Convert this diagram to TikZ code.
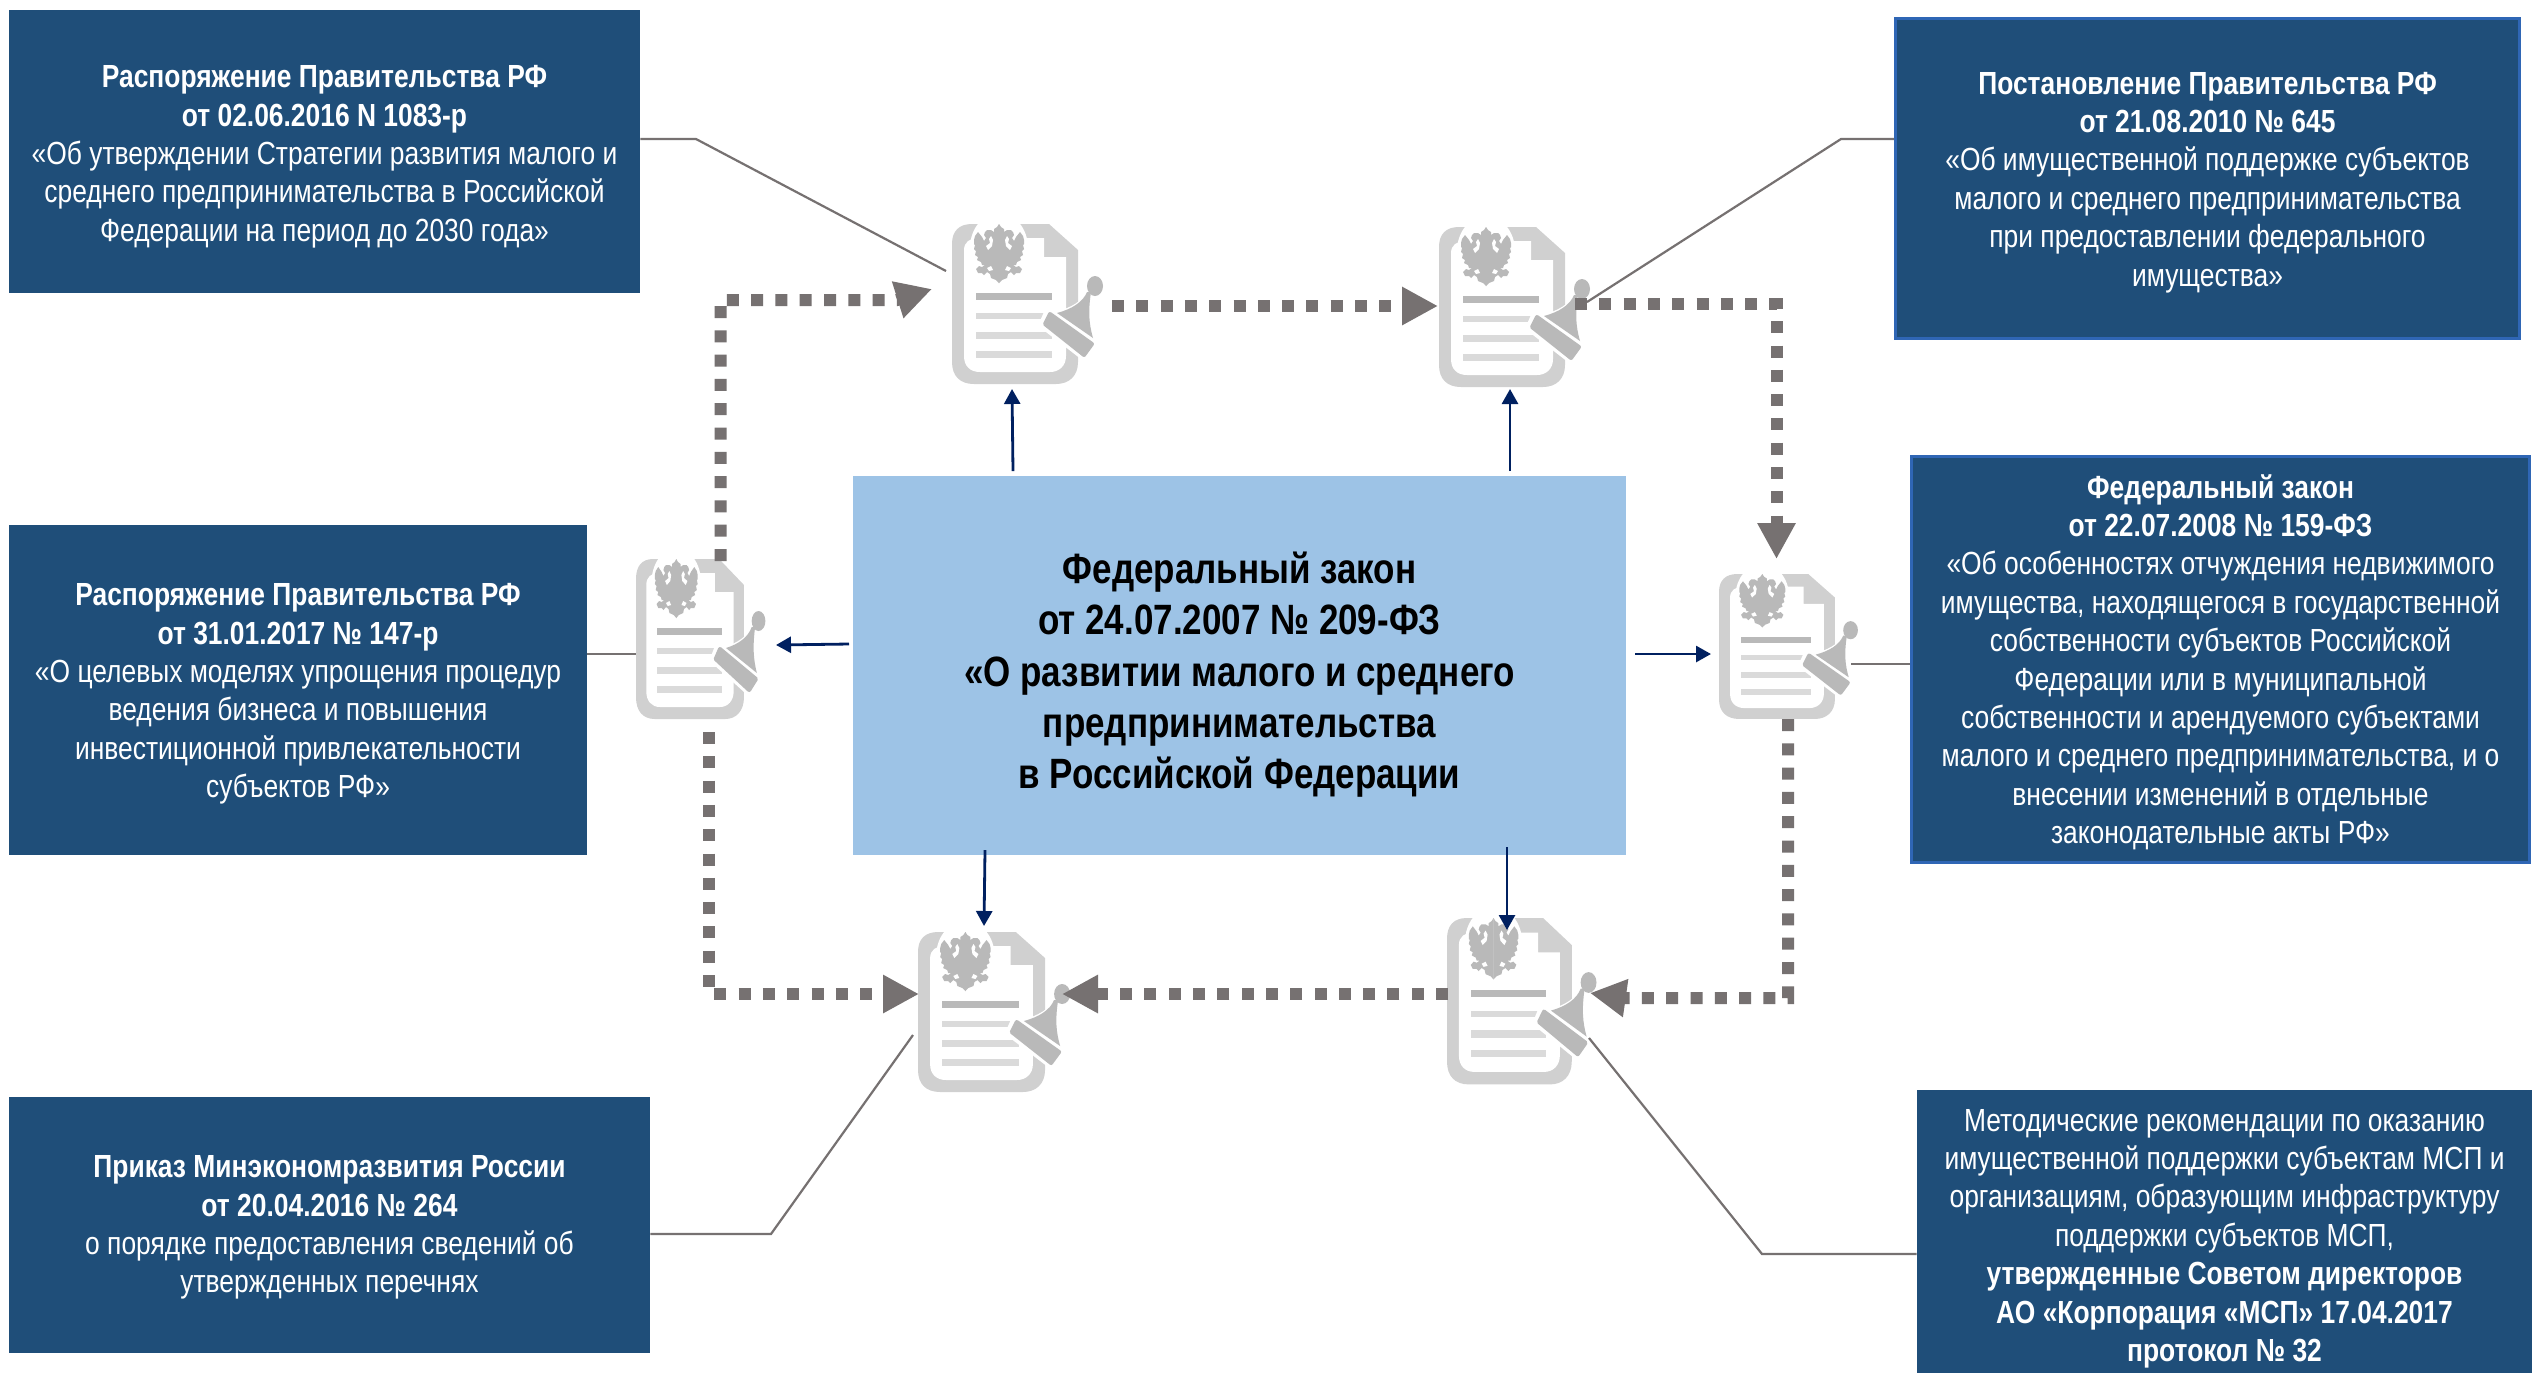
\documentclass[tikz,border=0pt]{standalone}
\usepackage{fontspec}
\setmainfont[FakeStretch=0.825]{Liberation Sans}
\usetikzlibrary{arrows.meta}
\definecolor{boxblue}{HTML}{1F4E79}
\definecolor{edgeblue}{HTML}{2F66B5}
\definecolor{midblue}{HTML}{9DC3E6}
\definecolor{dashgray}{HTML}{767171}
\definecolor{navy}{HTML}{002060}
\definecolor{docgray}{HTML}{D0D0D0}
\definecolor{inkgray}{HTML}{B9B9B9}
\definecolor{linegray}{HTML}{DADADA}
\newcommand{\eaglehalf}{%
  \fill[inkgray] (-.2,0) -- (0,0) -- (2,3) -- (5,5) -- (5,8) -- (8,6) -- (12,6) -- (14,8) -- (15,11) -- (13,14) -- (15,17)
    -- (17,13) -- (21,8) -- (24,12) -- (25,16) -- (25,20) -- (24,21) -- (25,25) -- (23,27) -- (24,31) -- (21,33) -- (22,36)
    -- (18,38) -- (17,41) -- (14,41) -- (17,43) -- (20,42) -- (23,45) -- (21,49) -- (17,49) -- (15,51) -- (12,48) -- (9,50)
    -- (8,54) -- (3,56) -- (0,59) -- (-.2,59) -- cycle;
  \fill[white] (8,12) -- (10,15) -- (9,19) -- (13,22) -- (11,26) -- (7,22) -- (6,16) -- cycle;
  \fill[white] (8,42) -- (12,44) -- (10,47) -- (6,46) -- cycle;
}
\newcommand{\drop}[1]{\rule{0pt}{#1}}
\tikzset{
  x=0.5pt,y=-0.5pt,
  docbox/.style={fill=boxblue,text=white,inner sep=0pt,align=center,font=\fontsize{16}{19.2}\selectfont},
  edged/.style={draw=edgeblue,line width=1.5pt},
  mainbox/.style={fill=midblue,text=black,inner sep=0pt,align=center,font=\fontsize{21.2}{25.6}\selectfont\bfseries},
  leader/.style={draw=dashgray,line width=1.1pt},
  flow/.style={draw=dashgray,line width=6pt,dash pattern=on 6pt off 6.15pt,-{Triangle[length=18pt,width=18pt]}},
  ptr/.style={draw=navy,line width=1.4pt,-{Triangle[length=7.5pt,width=8pt]}},
  docicon/.pic={
    % sheet
    \fill[docgray] (0,20) .. controls (0,7) and (7,0) .. (20,0) -- (97,0) -- (126,26) -- (126,138)
      .. controls (126,152) and (117,160) .. (104,160) -- (22,160) .. controls (8,160) and (0,152) .. (0,138) -- cycle;
    \fill[white] (12,26) .. controls (12,18) and (18,14) .. (26,14) -- (92,14) -- (92,33) -- (114,33) -- (114,132)
      .. controls (114,142) and (107,148) .. (98,148) -- (28,148) .. controls (18,148) and (12,142) .. (12,132) -- cycle;
    % white patch behind the eagle
    \fill[white] (47,24) ellipse [x radius=29,y radius=35];
    % eagle
    \begin{scope}[shift={(47,0)}]
      \eaglehalf
      \begin{scope}[xscale=-1]\eaglehalf\end{scope}
    \end{scope}
    % text lines
    \fill[inkgray] (24,69) rectangle (100,76);
    \fill[linegray] (24,89) rectangle (100,95);
    \fill[linegray] (24,108) rectangle (100,115);
    \fill[linegray] (24,127) rectangle (100,134);
    % stamp
    \path[draw=white,fill=white,line width=2.5pt,line join=round] (89,101) -- (96,85) -- (144,119) -- (133,135) -- cycle;
    \path[draw=white,fill=white,line width=1.5pt,line join=round] (105,89) .. controls (120,85) and (131,78) .. (135,70)
      -- (135,52) -- (152,52) -- (152,72) -- (139,74) .. controls (136,88) and (137,100) .. (141,114) -- cycle;
    \draw[inkgray,fill=inkgray,line width=2pt,line join=round] (93,100) -- (98,90) -- (140,120) -- (132,131) -- cycle;
    \fill[inkgray] (105,89) .. controls (120,85) and (131,78) .. (135,68) -- (139,68) .. controls (136,88) and (137,100) .. (141,114) -- cycle;
    \fill[inkgray] (143,62) ellipse [x radius=8,y radius=10];
  }
}
\begin{document}
\begin{tikzpicture}
\useasboundingbox (0,0) rectangle (2538,1373);
\fill[white] (0,0) rectangle (2538,1373);

% boxes
\node[docbox,minimum width=315.5pt,minimum height=141.5pt] (b1) at (324.5,151.5) {\drop{16.4pt}\textbf{Распоряжение Правительства РФ}\\\textbf{от 02.06.2016 N 1083-р}\\«Об утверждении Стратегии развития малого и\\среднего предпринимательства в Российской\\Федерации на период до 2030 года»};
\node[docbox,edged,minimum width=312pt,minimum height=160pt] (b2) at (2207.5,178.5) {\drop{15pt}\textbf{Постановление Правительства РФ}\\\textbf{от 21.08.2010 № 645}\\«Об имущественной поддержке субъектов\\малого и среднего предпринимательства\\при предоставлении федерального\\имущества»};
\node[docbox,minimum width=289pt,minimum height=165pt] (b3) at (298,690) {\drop{15pt}\textbf{Распоряжение Правительства РФ}\\\textbf{от 31.01.2017 № 147-р}\\«О целевых моделях упрощения процедур\\ведения бизнеса и повышения\\инвестиционной привлекательности\\субъектов РФ»};
\node[docbox,edged,minimum width=309pt,minimum height=203pt] (b4) at (2220.5,659) {\drop{15pt}\textbf{Федеральный закон}\\\textbf{от 22.07.2008 № 159-ФЗ}\\«Об особенностях отчуждения недвижимого\\имущества, находящегося в государственной\\собственности субъектов Российской\\Федерации или в муниципальной\\собственности и арендуемого субъектами\\малого и среднего предпринимательства, и о\\внесении изменений в отдельные\\законодательные акты РФ»};
\node[docbox,minimum width=320.5pt,minimum height=128pt] (b5) at (329.5,1225) {\drop{13.5pt}\textbf{Приказ Минэкономразвития России}\\\textbf{от 20.04.2016 № 264}\\о порядке предоставления сведений об\\утвержденных перечнях};
\node[docbox,minimum width=307.5pt,minimum height=141.5pt] (b6) at (2224.5,1231.5) {\drop{18pt}Методические рекомендации по оказанию\\имущественной поддержки субъектам МСП и\\организациям, образующим инфраструктуру\\поддержки субъектов МСП,\\\textbf{утвержденные Советом директоров}\\\textbf{АО «Корпорация «МСП» 17.04.2017}\\\textbf{протокол № 32}};
\node[mainbox,minimum width=386.5pt,minimum height=189.5pt] (main) at (1239.5,665.5) {\drop{25pt}Федеральный закон\\от 24.07.2007 № 209-ФЗ\\«О развитии малого и среднего\\предпринимательства\\в Российской Федерации};

% icons
\pic at (952,224) {docicon};
\pic at (1439,227) {docicon};
\pic[xscale=.857] at (636,559) {docicon};
\pic[xscale=.92,yscale=.906] at (1719,574) {docicon};
\pic[xscale=1.008] at (918,932) {docicon};
\pic[xscale=.99,yscale=1.04] at (1447,918) {docicon};

% leader lines
\coordinate (k1) at (696,139);   \coordinate (e1) at (946,271);
\coordinate (k2) at (1841,139);  \coordinate (e2) at (1587,302);
\coordinate (e3) at (636,654);
\coordinate (e4) at (1851,664);
\coordinate (k5) at (771,1234);  \coordinate (e5) at (913,1035);
\coordinate (k6) at (1762,1254); \coordinate (e6) at (1589,1038);
\draw[leader] (b1.east |- k1) -- (k1) -- (e1);
\draw[leader] (b2.west |- k2) -- (k2) -- (e2);
\draw[leader] (b3.east |- e3) -- (e3);
\draw[leader] (b4.west |- e4) -- (e4);
\draw[leader] (b5.east |- k5) -- (k5) -- (e5);
\draw[leader] (b6.west |- k6) -- (k6) -- (e6);

% dashed flow between the documents
\coordinate (f1a) at (720.5,561);  \coordinate (f1b) at (720.5,300);  \coordinate (f1c) at (897,300);  \coordinate (f1d) at (932,289);
\coordinate (f2a) at (1112,306);   \coordinate (f2d) at (1438,306);
\coordinate (f3a) at (1575,304);   \coordinate (f3b) at (1776.5,304); \coordinate (f3d) at (1776.5,559);
\coordinate (f4a) at (1788,719);   \coordinate (f4b) at (1788,998);   \coordinate (f4c) at (1625,998);  \coordinate (f4d) at (1590,993);
\coordinate (f5a) at (1448,994);   \coordinate (f5d) at (1062,994);
\coordinate (f6a) at (709,732);    \coordinate (f6b) at (709,994);    \coordinate (f6d) at (919,994);
\draw[flow] (f1a) -- (f1b) -- (f1c) -- (f1d);
\draw[flow] (f2a) -- (f2d);
\draw[flow] (f3a) -- (f3b) -- (f3d);
\draw[flow] (f4a) -- (f4b) -- (f4c) -- (f4d);
\draw[flow] (f5a) -- (f5d);
\draw[flow] (f6a) -- (f6b) -- (f6d);

% arrows from the central law
\coordinate (p1a) at (1013,471); \coordinate (p1b) at (1012,389);
\coordinate (p2a) at (1510,471); \coordinate (p2b) at (1510,389);
\coordinate (p3a) at (849,644);  \coordinate (p3b) at (776,645);
\coordinate (p4a) at (1635,654); \coordinate (p4b) at (1711,654);
\coordinate (p5a) at (985,850);  \coordinate (p5b) at (984,926);
\coordinate (p6a) at (1507,847); \coordinate (p6b) at (1507,930);
\draw[ptr] (p1a) -- (p1b);
\draw[ptr] (p2a) -- (p2b);
\draw[ptr] (p3a) -- (p3b);
\draw[ptr] (p4a) -- (p4b);
\draw[ptr] (p5a) -- (p5b);
\draw[ptr] (p6a) -- (p6b);
\end{tikzpicture}
\end{document}
